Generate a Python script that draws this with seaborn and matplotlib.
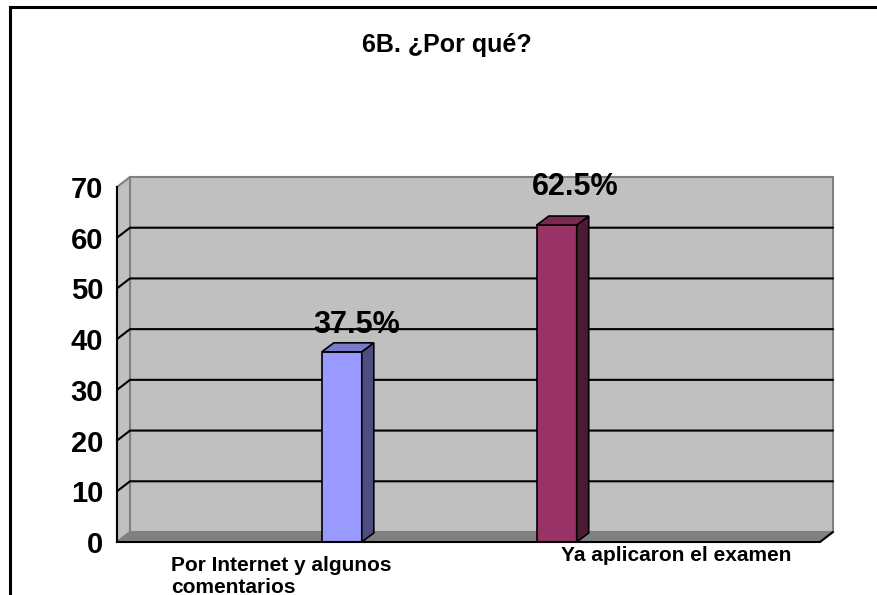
import numpy as np
import pandas as pd
import matplotlib
matplotlib.use("Agg")
import matplotlib.pyplot as plt
from matplotlib.patches import Polygon
from matplotlib.lines import Line2D
import seaborn as sns

# ---- data ----
title = "6B. ¿Por qué?"
categories = ["Por Internet y algunos\ncomentarios", "Ya aplicaron el examen"]
percentages = [37.5, 62.5]
y_ticks = [0, 10, 20, 30, 40, 50, 60, 70]

# ---- styling ----
front_colors = ["#9999FF", "#993366"]
side_colors = ["#4D4D80", "#4D1A33"]
top_colors = ["#7A7ACC", "#7A2952"]
wall_color = "#C0C0C0"
floor_color = "#808080"
edge_grey = "#808080"

sns.set_style("white")
plt.rcParams["font.family"] = ["Liberation Sans", "DejaVu Sans"]
plt.rcParams["text.color"] = "black"
plt.rcParams["ytick.color"] = "black"
plt.rcParams["xtick.color"] = "black"
plt.rcParams["ytick.labelcolor"] = "black"

W, H = 878, 595
fig = plt.figure(figsize=(W / 100, H / 100), dpi=100)

# front plane of the plot box, in pixels
fx0, fx1, fy0, fy1 = 117, 820, 542, 187
ax = fig.add_axes([fx0 / W, 1 - fy0 / H, (fx1 - fx0) / W, (fy0 - fy1) / H])
ax.set_facecolor("none")

df = pd.DataFrame({"cat": categories, "pct": percentages})
sns.barplot(data=df, x="cat", y="pct", hue="cat", palette=front_colors,
            saturation=1, width=0.186, legend=False, ax=ax,
            edgecolor="black", linewidth=1.2)
bars = list(ax.patches)

xl, xr = -1.046, 2.225
ax.set_xlim(xl, xr)
ax.set_ylim(0, 70)
ax.set_xlabel("")
ax.set_ylabel("")

# depth of the 3D walls and bars, in pixels
wall_dx, wall_dy = 13, 10
bar_dx, bar_dy = 12, 9


def shifted(x, y, dx, dy):
    disp = ax.transData.transform((x, y))
    return ax.transData.inverted().transform(disp + np.array([dx, dy]))


def poly(points, fc, ec, lw, z):
    p = Polygon(points, closed=True, facecolor=fc, edgecolor=ec, linewidth=lw,
                zorder=z, clip_on=False, joinstyle="miter")
    ax.add_patch(p)


# walls and floor
poly([shifted(xl, 0, wall_dx, wall_dy), shifted(xr, 0, wall_dx, wall_dy),
      shifted(xr, 70, wall_dx, wall_dy), shifted(xl, 70, wall_dx, wall_dy)],
     wall_color, edge_grey, 1.5, 0.2)
poly([(xl, 0), (xl, 70), shifted(xl, 70, wall_dx, wall_dy),
      shifted(xl, 0, wall_dx, wall_dy)],
     wall_color, edge_grey, 1.5, 0.2)
poly([(xl, 0), (xr, 0), shifted(xr, 0, wall_dx, wall_dy),
      shifted(xl, 0, wall_dx, wall_dy)],
     floor_color, edge_grey, 1.0, 0.3)

# gridlines running across the side wall and back wall
for yv in y_ticks[1:-1]:
    a = shifted(xl, yv, wall_dx, wall_dy)
    b = shifted(xr, yv, wall_dx, wall_dy)
    ax.add_line(Line2D([xl, a[0], b[0]], [yv, a[1], b[1]], color="black",
                       linewidth=1.5, zorder=0.4, clip_on=False))

# slanted end of the category axis
e = shifted(xr, 0, wall_dx, wall_dy)
ax.add_line(Line2D([xr, e[0]], [0, e[1]], color="black", linewidth=1.5,
                   zorder=0.5, clip_on=False))

# bar side and top faces, plus value labels
label_offsets_px = [(15, 19), (18, 30)]
for i, (bar, val) in enumerate(zip(bars, percentages)):
    bar.set_zorder(3)
    x = bar.get_x()
    w = bar.get_width()
    h = bar.get_height()
    poly([(x + w, 0), (x + w, h), shifted(x + w, h, bar_dx, bar_dy),
          shifted(x + w, 0, bar_dx, bar_dy)],
         side_colors[i], "black", 1.2, 3.1)
    poly([(x, h), (x + w, h), shifted(x + w, h, bar_dx, bar_dy),
          shifted(x, h, bar_dx, bar_dy)],
         top_colors[i], "black", 1.2, 3.1)
    ox, oy = label_offsets_px[i]
    ax.annotate(f"{val}%", xy=(x + w / 2, val),
                xytext=(ox * 0.72, oy * 0.72), textcoords="offset points",
                ha="center", va="baseline", fontsize=22, fontweight="bold",
                color="black", zorder=5, annotation_clip=False)

# axes lines and ticks
for side in ["top", "right"]:
    ax.spines[side].set_visible(False)
for side in ["left", "bottom"]:
    ax.spines[side].set_color("black")
    ax.spines[side].set_linewidth(1.5)
    ax.spines[side].set_zorder(4)

ax.set_yticks(y_ticks)
ax.set_yticklabels([str(t) for t in y_ticks], fontsize=21, fontweight="bold",
                   color="black")
ax.set_xticks([xl + k * (xr - xl) / 4 for k in range(5)])
ax.set_xticklabels([])
ax.tick_params(axis="y", length=5, width=1.5, direction="out", pad=5,
               colors="black")
ax.tick_params(axis="x", length=6, width=1.5, direction="out", colors="black")
ax.grid(False)

# title and category labels
fig.text(447 / W, 1 - 52 / H, title, ha="center", va="baseline",
         fontsize=18, fontweight="bold", color="black")
fig.text(171 / W, 1 - 556 / H, categories[0], ha="left", va="top",
         fontsize=15, fontweight="bold", linespacing=1.2, color="black")
fig.text(561 / W, 1 - 546 / H, categories[1], ha="left", va="top",
         fontsize=15, fontweight="bold", color="black")

# outer frame (top and left edges)
fig.add_artist(Line2D([10 / W, 10 / W], [0, 1 - 7 / H], color="black",
                      linewidth=2.2, solid_capstyle="projecting"))
fig.add_artist(Line2D([10 / W, 1], [1 - 7 / H, 1 - 7 / H], color="black",
                      linewidth=2.2, solid_capstyle="projecting"))

fig.savefig("out.png", dpi=100)
